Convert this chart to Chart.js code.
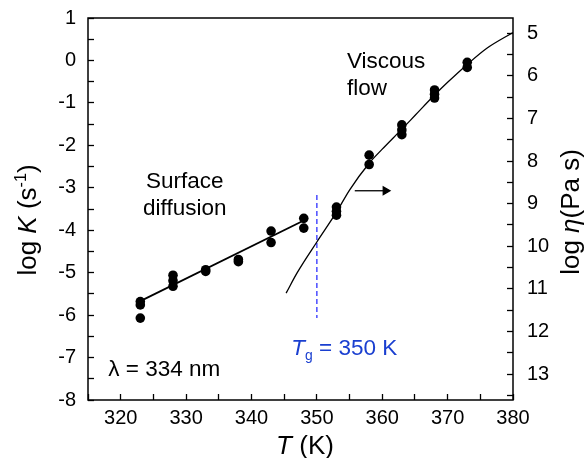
<!DOCTYPE html>
<html>
<head>
<meta charset="utf-8">
<script src="https://cdn.jsdelivr.net/npm/chart.js@4.4.1/dist/chart.umd.min.js"></script>
<style>
html, body { margin: 0; padding: 0; background: #fff; }
</style>
</head>
<body>
<canvas id="chart" width="587" height="458"></canvas>
<script>
// valori
const diffT = [323, 323, 323, 328, 328, 328, 333, 333, 338, 338, 343, 343, 348, 348];
const diffLogK = [-5.68, -5.76, -6.07, -5.06, -5.19, -5.32, -4.93, -4.97, -4.69, -4.74, -4.02, -4.29, -3.72, -3.95];
const diffFitT = [323, 348];
const diffFitLogK = [-5.67, -3.77];

const flowT = [353, 353, 353, 358, 358, 363, 363, 363, 368, 368, 368, 373, 373];
const flowLogEta = [9.08, 9.18, 9.27, 7.86, 8.08, 7.15, 7.27, 7.38, 6.33, 6.43, 6.52, 5.68, 5.8];
const vftT = [345.3, 347, 350, 353, 355, 358, 360, 363, 365, 368, 370, 373, 376, 380];
const vftLogEta = [11.1, 10.62, 9.9, 9.2, 8.68, 8.05, 7.72, 7.25, 6.93, 6.45, 6.15, 5.73, 5.35, 4.98];

const tgT = [350, 350];
const tgLogK = [-3.17, -6.07];
const arrowT = [355.8, 360.5];
const arrowLogK = [-3.07, -3.07];

// tacche principali (con etichetta) e secondarie
const xTicks = [320, 330, 340, 350, 360, 370, 380];
const xMinor = [315, 325, 335, 345, 355, 365, 375];
const kTicks = [-8, -7, -6, -5, -4, -3, -2, -1, 0, 1];
const kMinor = [-7.5, -6.5, -5.5, -4.5, -3.5, -2.5, -1.5, -0.5, 0.5];
const etaTicks = [5, 6, 7, 8, 9, 10, 11, 12, 13];
const etaMinor = [5.5, 6.5, 7.5, 8.5, 9.5, 10.5, 11.5, 12.5, 13.5];

const FONT = "'Liberation Sans', Arial, sans-serif";
const pts = (xs, ys) => xs.map((x, i) => ({ x: x, y: ys[i] }));
const tickList = (major, minor) => major.concat(minor).sort((a, b) => a - b).map(v => ({ value: v }));

// scrive testo con parti in corsivo / apice / pedice
function drawRich(ctx, parts, x, y, size, rot, align, color) {
    ctx.save();
    ctx.translate(x, y);
    ctx.rotate(rot);
    ctx.fillStyle = color || '#000';
    ctx.textBaseline = 'alphabetic';
    const fontOf = p => (p.italic ? 'italic ' : '') + (p.sup || p.sub ? size * 0.62 : size).toFixed(1) + 'px ' + FONT;
    let total = 0;
    parts.forEach(p => { ctx.font = fontOf(p); total += ctx.measureText(p.text).width; });
    let cx = align === 'center' ? -total / 2 : 0;
    parts.forEach(p => {
        ctx.font = fontOf(p);
        let dy = size * 0.35;
        if (p.sup) dy -= size * 0.4;
        if (p.sub) dy += size * 0.22;
        ctx.fillText(p.text, cx, dy);
        cx += ctx.measureText(p.text).width;
    });
    ctx.restore();
}

const decorPlugin = {
    id: 'decor',
    afterDatasetsDraw(chart) {
        const ctx = chart.ctx;
        const a = chart.chartArea;
        const x = chart.scales.x, y = chart.scales.y;
        // cornice
        ctx.save();
        ctx.strokeStyle = '#000';
        ctx.lineWidth = 1.5;
        ctx.strokeRect(a.left, a.top, a.right - a.left, a.bottom - a.top);
        ctx.restore();

        const px = v => x.getPixelForValue(v);
        const py = v => y.getPixelForValue(v);
        const fs = 22.5;
        drawRich(ctx, [{ text: 'Surface' }], px(329.8), py(-2.82), fs, 0, 'center');
        drawRich(ctx, [{ text: 'diffusion' }], px(329.8), py(-3.45), fs, 0, 'center');
        drawRich(ctx, [{ text: 'Viscous' }], px(354.6), py(0.01), fs, 0, 'left');
        drawRich(ctx, [{ text: 'flow' }], px(354.6), py(-0.63), fs, 0, 'left');
        drawRich(ctx, [{ text: 'λ = 334 nm' }], px(318.1), py(-7.25), fs, 0, 'left');
        drawRich(ctx, [{ text: 'T', italic: true }, { text: 'g', sub: true }, { text: ' = 350 K' }],
            px(346.1), py(-6.75), fs, 0, 'left', '#1a3fd0');

        // titoli degli assi
        drawRich(ctx, [{ text: 'T', italic: true }, { text: ' (K)' }], 305, 445, 26, 0, 'center');
        drawRich(ctx, [{ text: 'log ' }, { text: 'K', italic: true }, { text: ' (s' }, { text: '-1', sup: true }, { text: ')' }],
            27, 220, 26, -Math.PI / 2, 'center');
        drawRich(ctx, [{ text: 'log ' }, { text: 'η', italic: true }, { text: '(Pa s)' }],
            570, 212, 26, -Math.PI / 2, 'center');
    }
};

const tickFont = { family: FONT, size: 20 };
const gridOpts = { drawOnChartArea: false, tickLength: -6, tickColor: '#000', tickWidth: 1.3 };

new Chart(document.getElementById('chart'), {
    type: 'scatter',
    data: {
        datasets: [
            {
                data: pts(diffT, diffLogK), yAxisID: 'y',
                pointRadius: 4.8, backgroundColor: '#000', borderWidth: 0
            },
            {
                data: pts(flowT, flowLogEta), yAxisID: 'y2',
                pointRadius: 4.8, backgroundColor: '#000', borderWidth: 0
            },
            {
                data: pts(diffFitT, diffFitLogK), yAxisID: 'y', showLine: true,
                pointRadius: 0, borderColor: '#000', borderWidth: 1.8
            },
            {
                data: pts(vftT, vftLogEta), yAxisID: 'y2', showLine: true,
                pointRadius: 0, borderColor: '#000', borderWidth: 1.3,
                cubicInterpolationMode: 'monotone'
            },
            {
                data: pts(tgT, tgLogK), yAxisID: 'y', showLine: true,
                pointRadius: 0, borderColor: '#4a4cff', borderWidth: 1.5, borderDash: [5, 3]
            },
            {
                data: pts(arrowT, arrowLogK), yAxisID: 'y', showLine: true,
                borderColor: '#000', borderWidth: 1.3,
                pointRadius: [0, 4.5], pointStyle: 'triangle', rotation: 90,
                backgroundColor: '#000'
            }
        ]
    },
    options: {
        responsive: false,
        animation: false,
        layout: { padding: { top: 18, left: 0, right: 0, bottom: 0 } },
        plugins: { legend: { display: false }, tooltip: { enabled: false } },
        scales: {
            x: {
                type: 'linear', min: 315, max: 380,
                grid: gridOpts,
                border: { display: false },
                ticks: {
                    autoSkip: false, color: '#000', font: tickFont, padding: 12, maxRotation: 0,
                    callback: v => xTicks.includes(v) ? String(v) : ''
                },
                afterBuildTicks: s => { s.ticks = tickList(xTicks, xMinor); },
                afterFit: s => { s.height = 58; s.paddingLeft = 0; s.paddingRight = 0; }
            },
            y: {
                type: 'linear', position: 'left', min: -8, max: 1,
                grid: gridOpts,
                border: { display: false },
                ticks: {
                    autoSkip: false, color: '#000', font: tickFont, padding: 18,
                    callback: v => kTicks.includes(v) ? String(v) : ''
                },
                afterBuildTicks: s => { s.ticks = tickList(kTicks, kMinor); },
                afterFit: s => { s.width = 88; s.paddingTop = 0; s.paddingBottom = 0; }
            },
            y2: {
                type: 'linear', position: 'right', min: 4.64, max: 13.61, reverse: true,
                grid: gridOpts,
                border: { display: false },
                ticks: {
                    autoSkip: false, color: '#000', font: tickFont, padding: 20,
                    callback: v => etaTicks.includes(v) ? String(v) : ''
                },
                afterBuildTicks: s => { s.ticks = tickList(etaTicks, etaMinor); },
                afterFit: s => { s.width = 74; s.paddingTop = 0; s.paddingBottom = 0; }
            }
        }
    },
    plugins: [decorPlugin]
});
</script>
</body>
</html>
